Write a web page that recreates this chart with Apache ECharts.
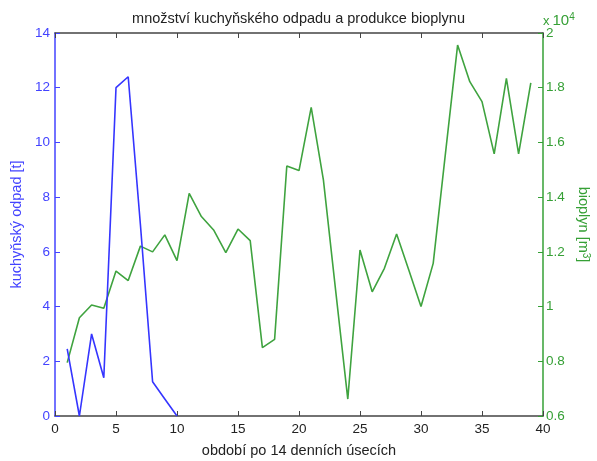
<!DOCTYPE html>
<html>
<head>
<meta charset="utf-8">
<script src="https://cdn.jsdelivr.net/npm/echarts@6/dist/echarts.min.js"></script>
<style>html,body{margin:0;padding:0;background:#fff}#c{width:597px;height:461px}</style>
</head>
<body>
<div id="c"></div>
<script>
// Data
const periodsWaste = [1, 2, 3, 4, 5, 6, 7, 8, 9, 10];
const kitchenWaste = [2.45, 0, 3.0, 1.4, 12.0, 12.4, 7.0, 1.25, 0.62, 0];
const periodsGas = [1,2,3,4,5,6,7,8,9,10,11,12,13,14,15,16,17,18,19,20,21,22,23,24,25,26,27,28,29,30,31,32,33,34,35,36,37,38,39];
const biogas = [7950, 9590, 10060, 9940, 11300, 10950, 12210, 12000, 12620, 11680,
                14140, 13290, 12800, 11970, 12835, 12410, 8500, 8800, 15140, 14970,
                17280, 14630, 10600, 6620, 12070, 10540, 11400, 12650, 11340, 10000,
                11580, 15580, 19560, 18220, 17490, 15580, 18340, 15580, 18180];
const titleText = 'množství kuchyňského odpadu a produkce bioplynu';
const xLabel = 'období po 14 denních úsecích';
const yLeftLabel = 'kuchyňský odpad [t]';

const FONT = '"Liberation Sans", Arial, sans-serif';
const BLUE = '#3535ff';
const BLUE_TXT = '#4343ff';
const GREEN = '#3fa33f';
const GREEN_TXT = '#36a036';
const AXIS = '#444';

const chart = echarts.init(document.getElementById('c'), null, {renderer: 'canvas'});
chart.setOption({
  animation: false,
  backgroundColor: '#fff',
  textStyle: {fontFamily: FONT},
  title: {
    text: titleText, left: 'center', top: 6,
    textStyle: {fontFamily: FONT, fontSize: 14.5, fontWeight: 'normal', color: '#222'}
  },
  grid: {left: 55, right: 54, top: 33, bottom: 45, containLabel: false, outerBoundsMode: 'none'},
  xAxis: [{
    type: 'value', min: 0, max: 40, interval: 5, position: 'bottom',
    name: xLabel, nameLocation: 'middle', nameGap: 27,
    nameTextStyle: {fontFamily: FONT, fontSize: 14.5, color: '#222'},
    axisLine: {onZero: false, lineStyle: {color: AXIS, width: 1.5}},
    axisTick: {inside: true, length: 5, lineStyle: {color: AXIS}},
    axisLabel: {fontFamily: FONT, fontSize: 13.5, color: '#222', margin: 6},
    splitLine: {show: false}
  }, {
    type: 'value', min: 0, max: 40, interval: 5, position: 'top',
    axisLine: {onZero: false, lineStyle: {color: AXIS, width: 1.5}},
    axisTick: {inside: true, length: 5, lineStyle: {color: AXIS}},
    axisLabel: {show: false},
    splitLine: {show: false}
  }],
  yAxis: [{
    type: 'value', min: 0, max: 14, interval: 2, position: 'left',
    name: yLeftLabel, nameLocation: 'middle', nameGap: 24, nameRotate: 90,
    nameTextStyle: {fontFamily: FONT, fontSize: 14.5, color: BLUE_TXT},
    axisLine: {show: true, onZero: false, lineStyle: {color: BLUE_TXT, width: 1.5}},
    axisTick: {show: true, inside: true, length: 5, lineStyle: {color: BLUE_TXT}},
    axisLabel: {fontFamily: FONT, fontSize: 13.5, color: BLUE_TXT, margin: 5},
    splitLine: {show: false}
  }, {
    type: 'value', min: 6000, max: 20000, interval: 2000, position: 'right',
    name: 'bioplyn [m{sup|3}]', nameLocation: 'middle', nameGap: 32, nameRotate: -90,
    nameTextStyle: {fontFamily: FONT, fontSize: 14.5, color: GREEN_TXT,
      rich: {sup: {fontFamily: FONT, fontSize: 10, color: GREEN_TXT, verticalAlign: 'top', padding: [0,0,6,0]}}},
    axisLine: {show: true, onZero: false, lineStyle: {color: GREEN_TXT, width: 1.5}},
    axisTick: {show: true, inside: true, length: 5, lineStyle: {color: GREEN_TXT}},
    axisLabel: {fontFamily: FONT, fontSize: 13.5, color: GREEN_TXT, margin: 3,
      formatter: v => String(Math.round(v / 1000) / 10)},
    splitLine: {show: false}
  }],
  graphic: [{
    type: 'text', left: 543, top: 12,
    style: {
      text: 'x{b|10}{s|4}',
      font: '13px ' + FONT, fill: GREEN_TXT,
      rich: {
        b: {fontFamily: FONT, fontSize: 15, fill: GREEN_TXT, padding: [0,0,0,3]},
        s: {fontFamily: FONT, fontSize: 10, fill: GREEN_TXT, verticalAlign: 'top', padding: [0,0,8,0]}
      }
    }
  }],
  series: [{
    type: 'line', xAxisIndex: 0, yAxisIndex: 1,
    data: periodsGas.map((x, i) => [x, biogas[i]]),
    showSymbol: false, symbol: 'none',
    lineStyle: {color: GREEN, width: 1.6}
  }, {
    type: 'line', xAxisIndex: 0, yAxisIndex: 0,
    data: periodsWaste.map((x, i) => [x, kitchenWaste[i]]),
    showSymbol: false, symbol: 'none',
    lineStyle: {color: BLUE, width: 1.6}
  }]
});
</script>
</body>
</html>
